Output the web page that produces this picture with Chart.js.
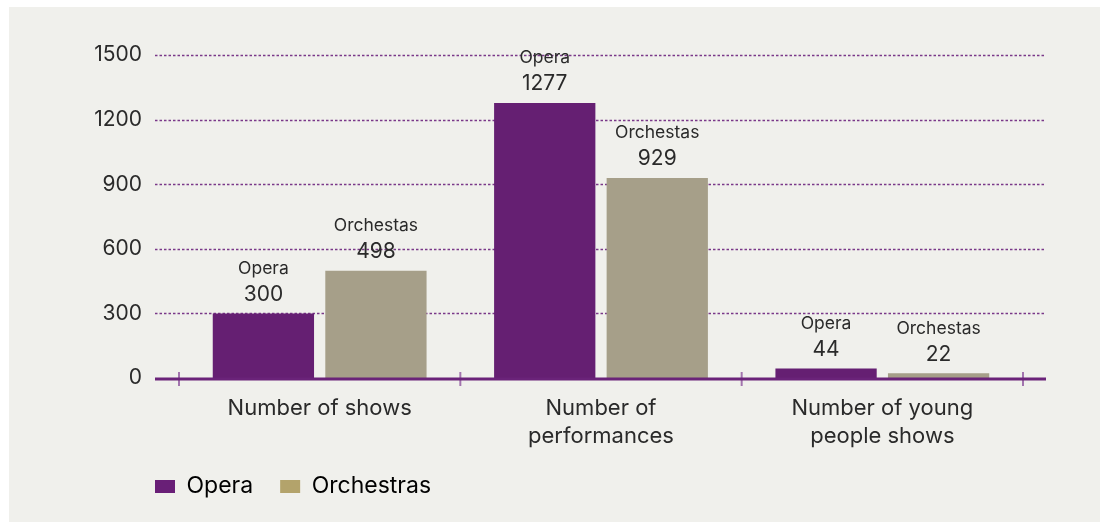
<!DOCTYPE html>
<html>
<head>
<meta charset="utf-8">
<script src="https://cdn.jsdelivr.net/npm/chart.js@4/dist/chart.umd.min.js"></script>
<style>
    html, body { margin: 0; padding: 0; background: #ffffff; }
    #wrap { position: relative; width: 1100px; height: 522px; overflow: hidden; }
    #panel { position: absolute; left: 9px; top: 7px; right: 0; bottom: 0; background: #f0f0ec; }
    #chart { position: absolute; left: 0; top: 0; }
</style>
</head>
<body>
<div id="wrap">
    <div id="panel"></div>
    <canvas id="chart" width="1100" height="522"></canvas>
</div>
<script>
// chart data
const categories = [['Number of shows'], ['Number of', 'performances'], ['Number of young', 'people shows']];
const seriesNames = ['Opera', 'Orchestras'];
const barLabelNames = ['Opera', 'Orchestas'];
const operaValues = [300, 1277, 44];
const orchestraValues = [498, 929, 22];
const yTicks = [0, 300, 600, 900, 1200, 1500];

const barColors = ['#651f72', '#a69f89'];
const legendColors = ['#691f77', '#b3a36b'];
const textColor = '#2a2a2a';
const fontFamily = 'Inter, "Open Sans", sans-serif';

// dotted grid lines, axis line and the little ticks crossing it
const axisPlugin = {
    id: 'axisPlugin',
    afterLayout(chart) {
        // legend lines up with the left end of the grid lines
        chart.legend.left = chart.chartArea.left - 51;
    },
    beforeDatasetsDraw(chart) {
        const { ctx, chartArea, scales } = chart;
        ctx.save();
        ctx.strokeStyle = '#7a3889';
        ctx.lineWidth = 1.3;
        ctx.setLineDash([2.5, 2]);
        scales.y.ticks.forEach(t => {
            if (t.value === 0) return;
            const y = Math.round(scales.y.getPixelForValue(t.value)) + 0.5;
            ctx.beginPath();
            ctx.moveTo(chartArea.left - 24, y);
            ctx.lineTo(chartArea.right + 23, y);
            ctx.stroke();
        });
        ctx.restore();
    },
    afterDatasetsDraw(chart) {
        const { ctx, chartArea, scales } = chart;
        const y0 = scales.y.getPixelForValue(0) + 1;
        ctx.save();
        ctx.strokeStyle = '#a274ae';
        ctx.lineWidth = 2;
        const n = categories.length;
        for (let i = 0; i <= n; i++) {
            const x = scales.x.left + i * scales.x.width / n;
            ctx.beginPath();
            ctx.moveTo(x, y0 - 7);
            ctx.lineTo(x, y0 + 7);
            ctx.stroke();
        }
        ctx.strokeStyle = '#6a2379';
        ctx.lineWidth = 3;
        ctx.beginPath();
        ctx.moveTo(chartArea.left - 24, y0);
        ctx.lineTo(chartArea.right + 23, y0);
        ctx.stroke();
        ctx.restore();
    }
};

// series name + value above every bar
const barLabelPlugin = {
    id: 'barLabelPlugin',
    afterDatasetsDraw(chart) {
        const { ctx } = chart;
        ctx.save();
        ctx.fillStyle = textColor;
        ctx.textAlign = 'center';
        ctx.textBaseline = 'middle';
        chart.data.datasets.forEach((ds, di) => {
            chart.getDatasetMeta(di).data.forEach((bar, i) => {
                ctx.font = '17.5px ' + fontFamily;
                ctx.fillText(barLabelNames[di], bar.x, bar.y - 45);
                ctx.font = '21px ' + fontFamily;
                ctx.fillText(String(ds.data[i]), bar.x, bar.y - 19);
            });
        });
        ctx.restore();
    }
};

new Chart(document.getElementById('chart').getContext('2d'), {
    type: 'bar',
    data: {
        labels: categories,
        datasets: [
            {
                label: seriesNames[0],
                data: operaValues,
                backgroundColor: barColors[0],
                categoryPercentage: 0.8,
                barPercentage: 0.9
            },
            {
                label: seriesNames[1],
                data: orchestraValues,
                backgroundColor: barColors[1],
                categoryPercentage: 0.8,
                barPercentage: 0.9
            }
        ]
    },
    options: {
        responsive: false,
        animation: false,
        events: [],
        layout: { padding: { left: 70, right: 77, top: 55, bottom: 14 } },
        scales: {
            x: {
                grid: { display: false, drawTicks: false },
                border: { display: false },
                ticks: {
                    color: textColor,
                    font: { family: fontFamily, size: 22, lineHeight: '28px' },
                    padding: 16,
                    maxRotation: 0,
                    autoSkip: false
                },
                afterFit(scale) { scale.height = 70; }
            },
            y: {
                min: 0,
                max: 1500,
                grid: { display: false, drawTicks: false },
                border: { display: false },
                ticks: {
                    color: textColor,
                    font: { family: fontFamily, size: 21 },
                    padding: 37,
                    callback: (v) => String(v)
                },
                afterBuildTicks(scale) { scale.ticks = yTicks.map(v => ({ value: v })); },
                afterFit(scale) { scale.width = 109; }
            }
        },
        plugins: {
            tooltip: { enabled: false },
            legend: {
                position: 'bottom',
                align: 'start',
                labels: {
                    boxWidth: 20,
                    boxHeight: 13,
                    padding: 27,
                    color: textColor,
                    font: { family: fontFamily, size: 23 },
                    generateLabels: (chart) => seriesNames.map((name, i) => ({
                        text: name,
                        fillStyle: legendColors[i],
                        strokeStyle: legendColors[i],
                        lineWidth: 0,
                        datasetIndex: i
                    }))
                }
            }
        }
    },
    plugins: [axisPlugin, barLabelPlugin]
});
</script>
</body>
</html>
